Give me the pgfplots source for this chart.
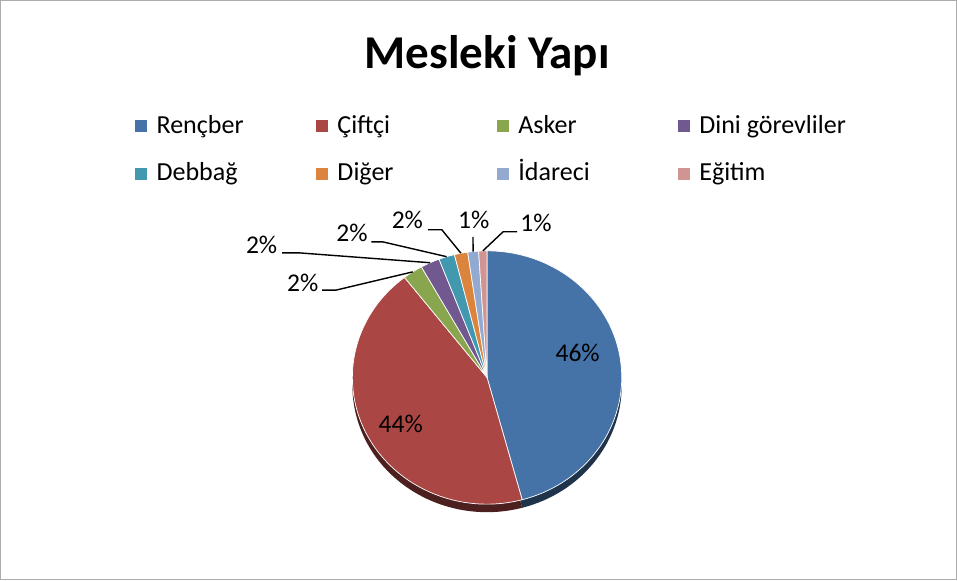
\documentclass[border=0pt]{standalone}
\usepackage{pgfplots}
\usepackage{pgfplotstable}
\pgfplotsset{compat=1.18}
\usetikzlibrary{calc}
\usepackage{fontspec}
\setmainfont{Carlito}

\definecolor{cA}{HTML}{4572A7}
\definecolor{cB}{HTML}{AA4643}
\definecolor{cC}{HTML}{89A54E}
\definecolor{cD}{HTML}{71588F}
\definecolor{cE}{HTML}{4198AF}
\definecolor{cF}{HTML}{DB843D}
\definecolor{cG}{HTML}{93A9CF}
\definecolor{cH}{HTML}{D09493}

% value = share in percent; lx,ly = label position (px, from top); ex,ey = leader elbow; hx = leader end near label
\pgfplotstableread[col sep=comma]{
name,value,col,lx,ly,ex,ey,hx,lead
Rençber,45.8,cA,555,362,0,0,0,0
Çiftçi,43.7,cB,379,433,0,0,0,0
Asker,2.4,cC,288,292,337,291,323,1
Dini görevliler,2.3,cD,247,255,300,254,283,1
Debbağ,1.9,cE,337,243,383,243,372,1
Diğer,1.6,cF,392,230,442,231,428,1
İdareci,1.3,cG,458,230,473,238,473,1
Eğitim,1.0,cH,520,233,503,233,517,1
}\piedata

\begin{document}
\begin{tikzpicture}
\begin{axis}[x=1bp,y=1bp,xmin=0,xmax=957,ymin=0,ymax=580,
  hide axis,clip=false,scale only axis]
\pgfplotsextra{
  % frame
  \draw[gray!65,line width=1.2bp] (axis cs:3,1) rectangle (axis cs:954,577);
  % title
  \node[anchor=base,font=\bfseries\fontsize{47}{56}\selectfont] at (axis cs:487,509) {Mesleki Yapı};
  \pgfplotstablegetrowsof{\piedata}\pgfmathtruncatemacro\N{\pgfplotsretval-1}
  % side (3D thickness)
  \xdef\cum{90}
  \foreach \i in {0,...,\N}{
    \pgfplotstablegetelem{\i}{value}\of\piedata \let\v\pgfplotsretval
    \pgfplotstablegetelem{\i}{col}\of\piedata \let\c\pgfplotsretval
    \pgfmathsetmacro\b{\cum-3.6*\v}
    \fill[\c!45!black] (axis cs:487,194) -- ++(\cum:134bp and 126bp)
      arc[start angle=\cum,end angle=\b,x radius=134bp,y radius=126bp] -- cycle;
    \xdef\cum{\b}
  }
  % top face, labels, legend
  \xdef\cum{90}
  \foreach \i in {0,...,\N}{
    \pgfplotstablegetelem{\i}{value}\of\piedata \let\v\pgfplotsretval
    \pgfplotstablegetelem{\i}{col}\of\piedata \let\c\pgfplotsretval
    \pgfplotstablegetelem{\i}{name}\of\piedata \let\nm\pgfplotsretval
    \pgfplotstablegetelem{\i}{lx}\of\piedata \let\lx\pgfplotsretval
    \pgfplotstablegetelem{\i}{ly}\of\piedata \let\ly\pgfplotsretval
    \pgfplotstablegetelem{\i}{ex}\of\piedata \let\ex\pgfplotsretval
    \pgfplotstablegetelem{\i}{ey}\of\piedata \let\ey\pgfplotsretval
    \pgfplotstablegetelem{\i}{hx}\of\piedata \let\hx\pgfplotsretval
    \pgfplotstablegetelem{\i}{lead}\of\piedata \let\lead\pgfplotsretval
    \pgfmathsetmacro\b{\cum-3.6*\v}
    \pgfmathsetmacro\m{\cum-1.8*\v}
    \fill[\c,draw=white,line width=0.7bp] (axis cs:487,202) -- ++(\cum:134bp and 126bp)
      arc[start angle=\cum,end angle=\b,x radius=134bp,y radius=126bp] -- cycle;
    \pgfmathsetmacro\Ly{580-\ly}
    \node[anchor=base west,inner sep=0pt,font=\fontsize{25.5}{30}\selectfont]
      at (axis cs:\lx,\Ly) {\pgfmathprintnumber[fixed,precision=0,assume math mode=true]{\v}\%};
    \ifnum\lead=1
      \pgfmathsetmacro\Ey{580-\ey}
      \draw[black,line width=1.4bp] (axis cs:\hx,\Ey) -- (axis cs:\ex,\Ey)
        -- ($(axis cs:487,202)+(\m:134bp and 126bp)$);
    \fi
    % legend entry
    \pgfmathtruncatemacro\cl{mod(\i,4)}
    \pgfmathtruncatemacro\rw{floor(\i/4)}
    \pgfmathsetmacro\sx{137+180*\cl}
    \pgfmathsetmacro\sy{580-122-48*\rw}
    \pgfmathsetmacro\tx{158+180*\cl}
    \pgfmathsetmacro\ty{580-135-47*\rw}
    \fill[\c] (axis cs:\sx,\sy) rectangle (axis cs:\sx+12,\sy-12);
    \node[anchor=base west,inner sep=0pt,font=\fontsize{26}{31}\selectfont]
      at (axis cs:\tx,\ty) {\nm};
    \xdef\cum{\b}
  }
}
\end{axis}
\end{tikzpicture}
\end{document}
